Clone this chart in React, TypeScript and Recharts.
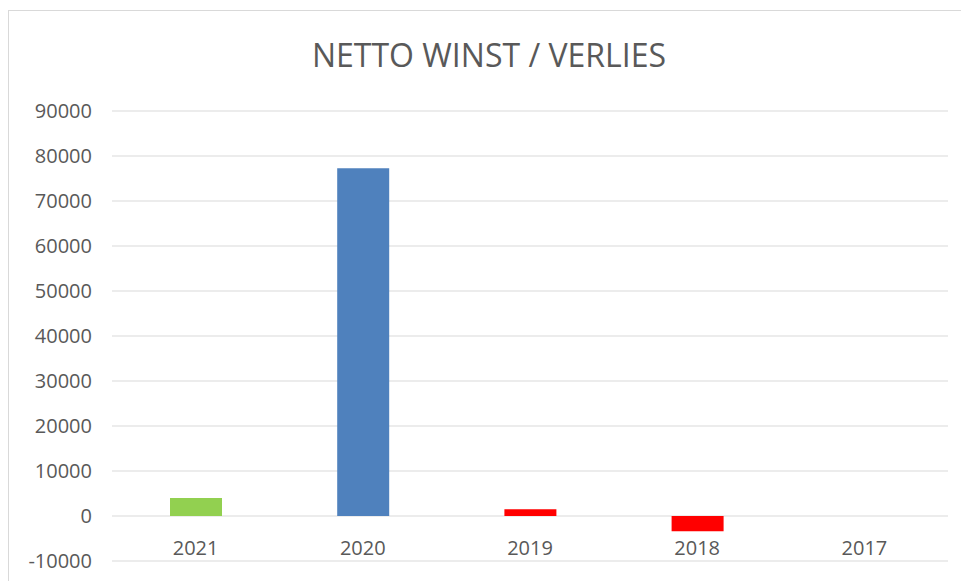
import { BarChart, Bar, XAxis, YAxis, CartesianGrid, Cell } from 'recharts';

const years = ['2021', '2020', '2019', '2018', '2017'];
const result = [4000, 77300, 1500, -3400, 0];
const barColors = ['#92D050', '#4F81BD', '#FF0000', '#FF0000', '#FF0000'];
const yTicks = [-10000, 0, 10000, 20000, 30000, 40000, 50000, 60000, 70000, 80000, 90000];

const data = years.map((y, i) => ({ year: y, value: result[i] }));

const font = '"Open Sans", "Noto Sans", sans-serif';

// year labels sit just under the zero line, like in Excel
function YearTick(props: any) {
  const { x, payload } = props;
  return (
    <text x={x} y={555} textAnchor="middle" fill="#595959" fontSize={20} fontFamily={font}>
      {payload.value}
    </text>
  );
}

export default function App() {
  return (
    <div style={{ position: 'absolute', left: 0, top: 0, width: 961, height: 581, background: '#fff', overflow: 'hidden' }}>
      <div style={{ position: 'absolute', left: 8, top: 10, width: 980, height: 600, border: '1px solid #D9D9D9' }} />
      <div
        style={{
          position: 'absolute', left: 0, top: 33, width: 978, textAlign: 'center',
          fontFamily: font, fontSize: 32, color: '#595959', lineHeight: 'normal',
        }}
      >
        NETTO WINST / VERLIES
      </div>
      <div style={{ position: 'absolute', left: 0, top: 0 }}>
        <BarChart width={961} height={581} data={data} margin={{ top: 111, right: 13, bottom: 0, left: 0 }}>
          <CartesianGrid vertical={false} stroke="#D9D9D9" />
          <XAxis dataKey="year" axisLine={false} tickLine={false} tick={<YearTick />} height={20} />
          <YAxis
            width={112}
            domain={[-10000, 90000]}
            ticks={yTicks}
            interval={0}
            axisLine={false}
            tickLine={false}
            tickMargin={14}
            tick={{ fill: '#595959', fontSize: 20, fontFamily: font }}
          />
          <Bar dataKey="value" barSize={52} isAnimationActive={false}>
            {data.map((_, i) => (
              <Cell key={i} fill={barColors[i]} />
            ))}
          </Bar>
        </BarChart>
      </div>
    </div>
  );
}
